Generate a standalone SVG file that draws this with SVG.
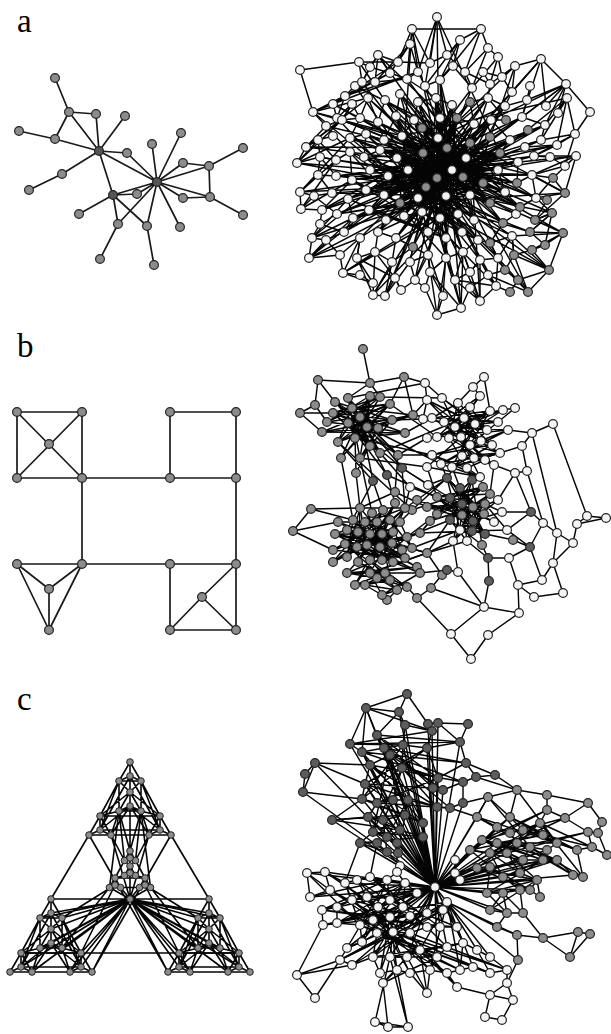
<svg xmlns="http://www.w3.org/2000/svg" width="611" height="1034" viewBox="0 0 611 1034">
<style>
.lab{font-family:"Liberation Serif","Times New Roman",serif;font-size:33px;fill:#000}
.e{fill:none;stroke:#050505;stroke-width:1.45;stroke-linejoin:round;stroke-linecap:round}
.e2{fill:none;stroke:#1a1a1a;stroke-width:1.7;stroke-linejoin:round}
.e3{fill:none;stroke:#050505;stroke-width:1.6;stroke-linejoin:round}
circle{r:4.4px;stroke:#222;stroke-width:1.2}
.s circle{r:3.3px;stroke-width:1}
.w circle{fill:#f4f4f4}
.g circle{fill:#8c8c8c}
.d circle{fill:#5c5c5c}
.h circle{fill:#555}
</style>
<rect width="611" height="1034" fill="#fff"/>
<text class="lab" x="17" y="31.5">a</text>
<text class="lab" x="17" y="356.5">b</text>
<text class="lab" x="17" y="709.5">c</text>

<!-- ===== a left ===== -->
<g id="graph-a-left">
<g id="a-left-connectors">
<path class="e2" d="M55 78L69 112M69 112L96 114M69 112L55 139M69 112L99 151M96 114L99 151M125 116L99 151M19 131L55 139M55 139L99 151M99 151L127 153M99 151L157 182M99 151L113 195M99 151L62 174M62 174L29 190M127 153L157 182M152 144L157 182M181 133L157 182M243 148L209 166M183 163L209 166M183 163L157 182M209 166L157 182M209 166L210 197M157 182L210 197M157 182L183 198M183 198L210 197M210 197L243 215M157 182L180 227M157 182L147 226M157 182L137 194M157 182L113 195M157 182L118 224M113 195L137 194M113 195L79 214M113 195L118 224M113 195L147 226M118 224L100 259M147 226L154 265"/>
</g>
<g class="g">
<circle id="a-n1" cx="55" cy="78"/><circle id="a-n2" cx="69" cy="112"/><circle id="a-n3" cx="96" cy="114"/><circle id="a-n4" cx="125" cy="116"/><circle id="a-n5" cx="19" cy="131"/><circle id="a-n6" cx="55" cy="139"/><circle id="a-n8" cx="127" cy="153"/><circle id="a-n9" cx="181" cy="133"/><circle id="a-n10" cx="152" cy="144"/><circle id="a-n11" cx="243" cy="148"/><circle id="a-n12" cx="183" cy="163"/><circle id="a-n13" cx="209" cy="166"/><circle id="a-n14" cx="62" cy="174"/><circle id="a-n16" cx="29" cy="190"/><circle id="a-n18" cx="137" cy="194"/><circle id="a-n19" cx="183" cy="198"/><circle id="a-n20" cx="210" cy="197"/><circle id="a-n21" cx="243" cy="215"/><circle id="a-n22" cx="79" cy="214"/><circle id="a-n23" cx="118" cy="224"/><circle id="a-n24" cx="147" cy="226"/><circle id="a-n25" cx="180" cy="227"/><circle id="a-n26" cx="100" cy="259"/><circle id="a-n27" cx="154" cy="265"/>
</g>
<g class="h">
<circle id="a-n7" cx="99" cy="151"/><circle id="a-n15" cx="157" cy="182"/><circle id="a-n17" cx="113" cy="195"/>
</g>
</g>

<!-- ===== b left ===== -->
<g id="graph-b-left">
<g id="b-left-connectors">
<path class="e2" d="M17 412L82 412L82 478L17 478ZM17 412L82 478M82 412L17 478M170 412L236 412L236 478L170 478ZM82 478L170 478M82 478L82 564M236 478L236 564M82 564L170 564M17 564L82 564M17 564L49 589M82 564L49 589M49 589L49 630M17 564L49 630M82 564L49 630M170 564L236 564L236 630L170 630ZM170 630L202 597M202 597L236 564M202 597L236 630"/>
</g>
<g class="g">
<circle id="b-n1" cx="17" cy="412"/><circle id="b-n2" cx="82" cy="412"/><circle id="b-n3" cx="49" cy="444"/><circle id="b-n4" cx="17" cy="478"/><circle id="b-n5" cx="82" cy="478"/><circle id="b-n6" cx="170" cy="412"/><circle id="b-n7" cx="236" cy="412"/><circle id="b-n8" cx="170" cy="478"/><circle id="b-n9" cx="236" cy="478"/><circle id="b-n10" cx="17" cy="564"/><circle id="b-n11" cx="82" cy="564"/><circle id="b-n12" cx="49" cy="589"/><circle id="b-n13" cx="49" cy="630"/><circle id="b-n14" cx="170" cy="564"/><circle id="b-n15" cx="236" cy="564"/><circle id="b-n16" cx="202" cy="597"/><circle id="b-n17" cx="170" cy="630"/><circle id="b-n18" cx="236" cy="630"/>
</g>
</g>

<!-- ===== c left ===== -->
<g id="graph-c-left">
<g id="c-left-connectors">
<path class="e3" d="M130 762L119 781L141 781ZM119 781L130 776L141 781M130 776L130 762M130 792L119 811L141 811ZM119 811L130 806L141 811M130 806L130 792M100 816L89 835L111 835ZM89 835L100 830L111 835M100 830L100 816M160 816L149 835L171 835ZM149 835L160 830L171 835M160 830L160 816M119 781L100 816M141 781L160 816M100 816L160 816M89 835L171 835M130 792L119 781M130 792L141 781M119 811L100 816M141 811L160 816M119 811L111 835M141 811L149 835M130 776L130 792M119 781L119 811M141 781L141 811M130 806L100 830M130 806L160 830M130 776L100 830M130 776L160 830M100 830L160 830M130 792L100 816M130 792L160 816M119 781L100 830M141 781L160 830M130 806L111 835M130 806L149 835"/>
<path class="e3" d="M51 899L40 918L62 918ZM40 918L51 913L62 918M51 913L51 899M51 929L40 948L62 948ZM40 948L51 943L62 948M51 943L51 929M21 953L10 972L32 972ZM10 972L21 967L32 972M21 967L21 953M81 953L70 972L92 972ZM70 972L81 967L92 972M81 967L81 953M40 918L21 953M62 918L81 953M21 953L81 953M10 972L92 972M51 929L40 918M51 929L62 918M40 948L21 953M62 948L81 953M40 948L32 972M62 948L70 972M51 913L51 929M40 918L40 948M62 918L62 948M51 943L21 967M51 943L81 967M51 913L21 967M51 913L81 967M21 967L81 967M51 929L21 953M51 929L81 953M40 918L21 967M62 918L81 967M51 943L32 972M51 943L70 972"/>
<path class="e3" d="M209 899L198 918L220 918ZM198 918L209 913L220 918M209 913L209 899M209 929L198 948L220 948ZM198 948L209 943L220 948M209 943L209 929M179 953L168 972L190 972ZM168 972L179 967L190 972M179 967L179 953M239 953L228 972L250 972ZM228 972L239 967L250 972M239 967L239 953M198 918L179 953M220 918L239 953M179 953L239 953M168 972L250 972M209 929L198 918M209 929L220 918M198 948L179 953M220 948L239 953M198 948L190 972M220 948L228 972M209 913L209 929M198 918L198 948M220 918L220 948M209 943L179 967M209 943L239 967M209 913L179 967M209 913L239 967M179 967L239 967M209 929L179 953M209 929L239 953M198 918L179 967M220 918L239 967M209 943L190 972M209 943L228 972"/>
<path class="e3" d="M130 851L124.5 860.5L135.5 860.5ZM124.5 860.5L130 858L135.5 860.5M130 858L130 851M130 866L124.5 875.5L135.5 875.5ZM124.5 875.5L130 873L135.5 875.5M130 873L130 866M115 878L109.5 887.5L120.5 887.5ZM109.5 887.5L115 885L120.5 887.5M115 885L115 878M145 878L139.5 887.5L150.5 887.5ZM139.5 887.5L145 885L150.5 887.5M145 885L145 878M124.5 860.5L115 878M135.5 860.5L145 878M115 878L145 878M109.5 887.5L150.5 887.5M130 866L124.5 860.5M130 866L135.5 860.5M124.5 875.5L115 878M135.5 875.5L145 878M130 858L130 866"/>
<path class="e3" d="M89 835L51 899M171 835L209 899M51 899L209 899M89 835L168 972M171 835L92 972M21 953L239 953M130 851L119 811M130 851L141 811M130 851L130 806M124.5 860.5L111 835M135.5 860.5L149 835M119 811L109.5 887.5M141 811L150.5 887.5M124.5 860.5L119 811M135.5 860.5L141 811M130 899L109.5 887.5M130 899L120.5 887.5M130 899L139.5 887.5M130 899L150.5 887.5M130 899L130 873M130 899L62 918M130 899L51 913M130 899L51 929M130 899L62 948M130 899L51 943M130 899L81 953M130 899L81 967M130 899L70 972M130 899L40 948M130 899L40 918M130 899L21 967M130 899L198 918M130 899L209 913M130 899L209 929M130 899L198 948M130 899L209 943M130 899L179 953M130 899L179 967M130 899L190 972M130 899L220 948M130 899L220 918M130 899L239 967M130 899L111 835M130 899L149 835M62 918L115 885M198 918L145 885M92 972L130 899L168 972M62 948L109.5 887.5M198 948L150.5 887.5M81 953L115 885M179 953L145 885M32 972L130 899L228 972"/>
</g>
<g class="g s">
<circle cx="130" cy="762"/><circle cx="119" cy="781"/><circle cx="141" cy="781"/><circle cx="130" cy="776"/><circle cx="130" cy="792"/><circle cx="119" cy="811"/><circle cx="141" cy="811"/><circle cx="130" cy="806"/><circle cx="100" cy="816"/><circle cx="89" cy="835"/><circle cx="111" cy="835"/><circle cx="100" cy="830"/><circle cx="160" cy="816"/><circle cx="149" cy="835"/><circle cx="171" cy="835"/><circle cx="160" cy="830"/>
<circle cx="51" cy="899"/><circle cx="40" cy="918"/><circle cx="62" cy="918"/><circle cx="51" cy="913"/><circle cx="51" cy="929"/><circle cx="40" cy="948"/><circle cx="62" cy="948"/><circle cx="51" cy="943"/><circle cx="21" cy="953"/><circle cx="10" cy="972"/><circle cx="32" cy="972"/><circle cx="21" cy="967"/><circle cx="81" cy="953"/><circle cx="70" cy="972"/><circle cx="92" cy="972"/><circle cx="81" cy="967"/>
<circle cx="209" cy="899"/><circle cx="198" cy="918"/><circle cx="220" cy="918"/><circle cx="209" cy="913"/><circle cx="209" cy="929"/><circle cx="198" cy="948"/><circle cx="220" cy="948"/><circle cx="209" cy="943"/><circle cx="179" cy="953"/><circle cx="168" cy="972"/><circle cx="190" cy="972"/><circle cx="179" cy="967"/><circle cx="239" cy="953"/><circle cx="228" cy="972"/><circle cx="250" cy="972"/><circle cx="239" cy="967"/>
<circle cx="130" cy="851"/><circle cx="124.5" cy="860.5"/><circle cx="135.5" cy="860.5"/><circle cx="130" cy="858"/><circle cx="130" cy="866"/><circle cx="124.5" cy="875.5"/><circle cx="135.5" cy="875.5"/><circle cx="130" cy="873"/><circle cx="115" cy="878"/><circle cx="109.5" cy="887.5"/><circle cx="120.5" cy="887.5"/><circle cx="115" cy="885"/><circle cx="145" cy="878"/><circle cx="139.5" cy="887.5"/><circle cx="150.5" cy="887.5"/><circle cx="145" cy="885"/>
<circle id="c-hub" cx="130" cy="899"/>
</g>
</g>

<!-- ===== a right ===== -->
<g id="graph-a-right">
<g id="a-right-connectors">
<path class="e" d="M437 17L430 63L412 29L398 62L410 44L390 73L378 55L370 67L359 62L362 82L355 86L345 96L333 104L337 118L313 112L326 126L306 147L318 140L297 163L320 157L318 175L300 192L314 196L301 209L322 210L320 224L312 238L326 240L309 258L340 255L343 273L360 275L373 283L357 258L373 295L385 296L395 278L401 290L415 280L425 288L437 315L443 296L430 272L461 308L470 288L480 301L455 280L496 286L488 275L528 292L518 280L549 270L532 250L563 233L545 245L552 213L535 220L565 193L553 178L576 156L565 166L575 134L557 145L567 98L558 113L566 84L546 106L541 59L515 66L502 77L498 57L488 48L481 29L460 40L447 55L437 17"/>
<path class="e" d="M300 70L359 62M300 70L313 112M412 29L481 29M541 59L566 84M575 134L567 98M300 192L301 209M312 238L309 258M343 273L373 283M437 315L461 308M549 270L528 292M566 84L527 100M460 40L453 66M410 44L418 72M378 55L398 62M313 112L333 104M306 147L297 163M576 156L565 193M563 233L549 270M480 301L496 286M566 84L590 112L575 134"/>
<path class="e" d="M359 62L398 62L345 96L418 72L333 104L390 73L313 112L368 98L306 147L342 120L297 163L350 138L300 192L336 160L301 209L352 180L322 210L348 199L312 238L353 218L309 258L360 238L343 273L375 252L373 295L392 262L385 296L410 262L415 280L428 255L437 315L446 258L461 308L463 252L480 301L480 260L496 286L498 258L528 292L514 255L549 270L512 236L563 233L530 232L552 213L536 198L565 193L532 175L576 156L534 156L575 134L541 140L567 98L545 125L566 84L522 117L541 59L512 92L515 66L490 84L498 57L472 88L488 48L465 72L481 29L440 80L460 40L425 86L437 17L418 72L412 29L407 79L410 44L375 82L378 55L362 82"/>
<path class="e" d="M362 82L498 258L418 102L463 252L337 118L536 198L385 100L478 240L350 138L520 207L400 94L446 258L326 126L532 175L370 170L505 106L396 238L474 124L360 238L510 140L344 232L491 120L378 232L457 118L413 247L452 105L404 216L488 98L386 220L470 102L369 210L522 117L348 199L541 140L353 218L525 147L337 214L545 125L366 190L557 145L352 180L534 156L384 195L518 162L336 176L500 153L364 157L517 183L380 150L505 192L397 158L490 203L408 170L503 223L402 136L474 220L384 140L458 214L366 134L462 232L414 120L440 218L396 116L428 232L436 98L446 238L440 80L463 177"/>
<path class="e" d="M423 153L483 183L437 178L470 143L426 187L490 137L400 203L447 148L418 198L466 158L446 196L422 128L470 195L438 138L452 170L408 170L498 170L388 176L463 177L397 158L483 183L402 136L490 203L423 153L520 207L437 178L457 118L426 187L500 153L400 203L470 143L418 198L447 148L446 196L440 118L463 177L380 150L466 158L384 195L452 170L414 120L470 195L422 128L483 183L436 98L437 178L474 124L426 187L505 192L423 153L446 258L447 148L440 218L452 105L418 198L510 140L408 170"/>
<path class="e" d="M359 62L437 178L541 59L426 187L297 163L463 177L309 258L447 148L461 308L423 153L566 84L452 170L300 192L483 183L373 295L470 143L565 193L400 203L412 29L446 196L549 270L418 198L313 112L466 158L415 280L437 178L576 156L388 176L496 286L423 153L322 210L500 153L437 17L440 218L343 273L470 195L515 66L408 170L528 292L447 148L306 147L498 170L378 55L463 177L563 233L397 158L443 296L452 170L333 104L483 183L552 213L426 187L355 86L470 143L480 301L402 136L567 98L446 196L312 238L457 118L385 296L437 178"/>
<path class="e" d="M384 140L437 178L402 136L463 177L414 120L483 183L438 138L470 195L422 128L505 192L457 118L446 196L474 124L418 198L490 137L400 203L510 140L426 187L518 162L408 170L532 175L388 176L517 183L397 158L498 170L380 150L500 153L370 170L466 158L366 190L452 170L384 195L447 148L404 216L470 143L422 212L491 120L440 218L452 105L458 214L436 98L474 220L418 102L490 203L400 94L503 223L396 116L520 207L378 122L536 198L366 134L516 214L350 152L462 232L364 157L478 240L352 180L446 238L348 199L428 232L369 210L423 153"/>
<path class="e" d="M360 118L447 148L342 120L423 153L350 138L463 177L336 160L437 178L336 176L426 187L332 193L446 196L337 214L470 195L353 218L483 183L378 232L466 158L396 238L470 143L413 247L452 170L428 255L447 148L446 258L437 178L463 252L423 153L480 260L408 170L498 258L397 158L512 236L388 176L530 232L418 198L545 125L437 178L522 117L426 187L505 106L463 177L488 98L423 153L472 88L447 148L440 80L452 170L425 86L483 183L407 79L466 158L385 100L490 203L368 98L470 195"/>
<path class="e" d="M345 96L337 118L352 104L342 120L360 118L350 138L366 134L364 157L380 150L370 170L388 176L384 195L400 203L404 216L422 212L428 232L446 238L446 258L463 252L478 240L490 243L503 223L516 214L520 207L536 198L532 175L517 183L518 162L500 153L510 140L491 120L506 120L488 98L470 102L474 124L457 118L452 105L436 98L440 118L438 138L422 128L414 120L402 136L396 116L384 140L378 122L366 134M318 140L320 157L336 160L350 152L352 180L366 190L348 199L353 218L369 210L386 220L378 232L396 238L413 247L428 255L430 272L446 258L455 280L470 272L480 260L498 258L490 243L512 236L514 255L505 270L518 280L510 292L496 286L488 275M326 126L333 136M344 232L353 218M360 238L357 258L375 252L378 232M392 262L396 238M410 262L413 247M462 232L458 214L440 218L446 196M474 220L470 195L490 203L505 192L498 170L483 183L463 177L452 170L466 158L447 148L438 138M437 178L426 187L418 198L408 170L423 153L397 158"/>
<path class="e" d="M370 67L390 73L407 79L418 72L425 86L440 80L453 66L472 88L465 72L490 84L483 72L502 77L512 92L505 106L527 100L522 117L545 125L541 140L525 147L557 145L534 156L550 157L565 166L532 175L553 178L536 198L547 200L535 220L552 213L530 232L545 245L532 250L514 255L512 236L498 258L505 270L488 275L480 260L470 272L463 252L455 280L446 258L430 272L428 255L410 262L413 247L392 262L375 252L395 278L357 258L360 238L340 255L326 240L344 232L320 224L337 214L314 196L332 193L318 175L336 176L320 157L336 160L318 140L333 136L326 126L342 120L352 104L360 118L368 98L378 122L385 100L396 116L400 94L414 120L418 102L436 98L407 79L375 82L362 82L370 67M398 62L430 63L447 55L465 72M530 86L527 100M490 84L488 98L505 106M470 288L488 275M401 290L395 278M425 288L430 272"/>
</g>
<g class="w">
<circle cx="437" cy="17"/><circle cx="412" cy="29"/><circle cx="481" cy="29"/><circle cx="460" cy="40"/><circle cx="410" cy="44"/><circle cx="300" cy="70"/><circle cx="359" cy="62"/><circle cx="378" cy="55"/><circle cx="488" cy="48"/><circle cx="498" cy="57"/><circle cx="541" cy="59"/><circle cx="515" cy="66"/><circle cx="566" cy="84"/><circle cx="567" cy="98"/><circle cx="313" cy="112"/><circle cx="333" cy="104"/><circle cx="355" cy="86"/><circle cx="546" cy="106"/><circle cx="527" cy="100"/><circle cx="575" cy="134"/><circle cx="306" cy="147"/><circle cx="297" cy="163"/><circle cx="576" cy="156"/><circle cx="300" cy="192"/><circle cx="301" cy="209"/><circle cx="322" cy="210"/><circle cx="312" cy="238"/><circle cx="309" cy="258"/><circle cx="343" cy="273"/><circle cx="373" cy="283"/><circle cx="373" cy="295"/><circle cx="385" cy="296"/><circle cx="437" cy="315"/><circle cx="461" cy="308"/><circle cx="480" cy="301"/><circle cx="496" cy="286"/><circle cx="415" cy="280"/><circle cx="443" cy="296"/><circle cx="590" cy="112"/>
<circle cx="398" cy="62"/><circle cx="430" cy="63"/><circle cx="447" cy="55"/><circle cx="453" cy="66"/><circle cx="465" cy="72"/><circle cx="418" cy="72"/><circle cx="390" cy="73"/><circle cx="370" cy="67"/><circle cx="483" cy="72"/><circle cx="502" cy="77"/>
<circle cx="362" cy="82"/><circle cx="375" cy="82"/><circle cx="407" cy="79"/><circle cx="425" cy="86"/><circle cx="440" cy="80"/><circle cx="472" cy="88"/><circle cx="490" cy="84"/><circle cx="512" cy="92"/><circle cx="530" cy="86"/><circle cx="345" cy="96"/>
<circle cx="337" cy="118"/><circle cx="352" cy="104"/><circle cx="368" cy="98"/><circle cx="385" cy="100"/><circle cx="400" cy="94"/><circle cx="418" cy="102"/><circle cx="436" cy="98"/><circle cx="452" cy="105"/><circle cx="488" cy="98"/><circle cx="505" cy="106"/><circle cx="558" cy="113"/>
<circle cx="326" cy="126"/><circle cx="342" cy="120"/><circle cx="360" cy="118"/><circle cx="378" cy="122"/><circle cx="396" cy="116"/><circle cx="414" cy="120"/><circle cx="440" cy="118"/><circle cx="474" cy="124"/><circle cx="491" cy="120"/><circle cx="522" cy="117"/><circle cx="545" cy="125"/>
<circle cx="318" cy="140"/><circle cx="333" cy="136"/><circle cx="350" cy="138"/><circle cx="366" cy="134"/><circle cx="384" cy="140"/><circle cx="402" cy="136"/><circle cx="438" cy="138"/><circle cx="510" cy="140"/><circle cx="525" cy="147"/><circle cx="541" cy="140"/><circle cx="557" cy="145"/>
<circle cx="320" cy="157"/><circle cx="336" cy="160"/><circle cx="350" cy="152"/><circle cx="364" cy="157"/><circle cx="380" cy="150"/><circle cx="397" cy="158"/><circle cx="466" cy="158"/><circle cx="518" cy="162"/><circle cx="534" cy="156"/><circle cx="550" cy="157"/><circle cx="565" cy="166"/>
<circle cx="318" cy="175"/><circle cx="336" cy="176"/><circle cx="352" cy="180"/><circle cx="370" cy="170"/><circle cx="388" cy="176"/><circle cx="408" cy="170"/><circle cx="452" cy="170"/><circle cx="498" cy="170"/><circle cx="532" cy="175"/>
<circle cx="314" cy="196"/><circle cx="332" cy="193"/><circle cx="348" cy="199"/><circle cx="366" cy="190"/><circle cx="384" cy="195"/><circle cx="418" cy="198"/><circle cx="446" cy="196"/><circle cx="470" cy="195"/><circle cx="505" cy="192"/><circle cx="536" cy="198"/>
<circle cx="320" cy="224"/><circle cx="337" cy="214"/><circle cx="353" cy="218"/><circle cx="369" cy="210"/><circle cx="386" cy="220"/><circle cx="404" cy="216"/><circle cx="422" cy="212"/><circle cx="440" cy="218"/><circle cx="458" cy="214"/><circle cx="474" cy="220"/><circle cx="516" cy="214"/>
<circle cx="326" cy="240"/><circle cx="344" cy="232"/><circle cx="360" cy="238"/><circle cx="378" cy="232"/><circle cx="396" cy="238"/><circle cx="428" cy="232"/><circle cx="446" cy="238"/><circle cx="462" cy="232"/><circle cx="478" cy="240"/><circle cx="512" cy="236"/>
<circle cx="340" cy="255"/><circle cx="357" cy="258"/><circle cx="375" cy="252"/><circle cx="392" cy="262"/><circle cx="410" cy="262"/><circle cx="428" cy="255"/><circle cx="446" cy="258"/><circle cx="463" cy="252"/><circle cx="480" cy="260"/><circle cx="498" cy="258"/>
<circle cx="360" cy="275"/><circle cx="395" cy="278"/><circle cx="430" cy="272"/><circle cx="455" cy="280"/><circle cx="470" cy="272"/><circle cx="488" cy="275"/><circle cx="401" cy="290"/><circle cx="425" cy="288"/><circle cx="470" cy="288"/>
</g>
<g class="g">
<circle cx="565" cy="193"/><circle cx="552" cy="213"/><circle cx="563" cy="233"/><circle cx="549" cy="270"/><circle cx="528" cy="292"/><circle cx="470" cy="102"/><circle cx="457" cy="118"/><circle cx="506" cy="120"/><circle cx="528" cy="130"/><circle cx="422" cy="128"/><circle cx="470" cy="143"/><circle cx="490" cy="137"/><circle cx="423" cy="153"/><circle cx="447" cy="148"/><circle cx="500" cy="153"/><circle cx="426" cy="187"/><circle cx="437" cy="178"/><circle cx="463" cy="177"/><circle cx="483" cy="183"/><circle cx="517" cy="183"/><circle cx="553" cy="178"/><circle cx="400" cy="203"/><circle cx="490" cy="203"/><circle cx="520" cy="207"/><circle cx="547" cy="200"/><circle cx="503" cy="223"/><circle cx="535" cy="220"/><circle cx="413" cy="247"/><circle cx="490" cy="243"/><circle cx="530" cy="232"/><circle cx="545" cy="245"/><circle cx="514" cy="255"/><circle cx="532" cy="250"/><circle cx="505" cy="270"/><circle cx="518" cy="280"/><circle cx="510" cy="292"/>
</g>
</g>

<!-- ===== b right ===== -->
<g id="graph-b-right">
<g id="b-right-connectors">
<path class="e" d="M335 402L367 427L348 398L360 458L370 396L327 422L380 397L355 438L390 404L338 442L352 408L378 428L333 413L392 420L348 423L370 446L360 417L341 458L367 427L380 453L335 402L398 455L352 408L387 475L348 423L402 468L360 417L373 481L338 442L413 415L322 432L405 433L355 438L356 473L378 428L360 458L392 420L370 446L348 398L380 453L333 413L367 427L370 396L341 458L390 404L360 417"/>
<path class="e" d="M348 423L380 397L333 413L390 404L322 432L378 428L335 402L392 420L355 438L370 396L338 442L367 427L327 422L360 417L348 398L378 428L352 408L370 446L333 413L380 453L348 423L398 455L360 417L405 433L367 427L413 415L352 408L390 404L348 423"/>
<path class="e" d="M363 349L370 383L348 398M370 383L380 397M370 383L404 377L413 415M404 377L390 404M318 380L335 402M318 380L370 383M318 380L315 405L300 413L333 413M315 405L327 422M300 413L322 432M404 377L425 383M348 398L425 383M380 397L442 398M355 438L432 455M338 442L412 510M390 404L437 437M360 458L427 467M387 475L437 497M373 481L347 530M402 468L450 498M380 453L464 418M367 427L441 464M398 455L432 455M413 415L432 418"/>
<path class="e" d="M427 400L475 424L442 398L461 437L458 403L432 418L490 411L449 438L470 407L437 437L503 410L444 422L480 396L455 427L487 430L464 418L498 422L470 445L508 430L441 464L481 441L432 455L492 445L452 467L500 453L462 456L494 465L474 458L485 460L467 468L480 477L427 467L461 437L490 411L437 437L475 424L427 400L464 418L449 438L500 453L455 427L480 477"/>
<path class="e" d="M442 398L487 430L458 403L449 438L480 396L444 422L503 410L461 437L432 418L498 422L455 427L508 430L437 437L490 411L470 445L427 400L481 441L464 418L492 445L444 422L474 458L455 427L485 460L461 437L494 465L449 438L467 468L432 455L480 477L441 464L500 453L452 467L475 424L462 456L470 407L487 430"/>
<path class="e" d="M425 383L427 400M425 383L442 398M484 377L473 387L458 403M473 387L480 396M484 377L490 411M515 408L503 410M515 408L498 422M553 424L532 433L508 430M532 433L522 446L500 453M522 446L527 471L515 473L494 465M515 473L498 500"/>
<path class="e" d="M447 478L473 507L460 488L437 514L472 480L450 520L483 487L437 497L490 494L462 515L450 498L485 504L462 504L427 507L473 521L447 478L484 514L460 488L472 531L450 498L494 522L437 497L485 534L462 504L460 530L473 507L453 541L484 514L467 541L450 520L482 545L472 480L430 521L483 487L412 510L447 478L417 500L462 515L498 500L473 521L502 512L485 504L507 530L472 531L513 540L485 534"/>
<path class="e" d="M437 497L472 531L450 498L485 534L460 488L462 515L472 480L437 514L483 487L450 520L490 494L460 530L447 478L484 514L427 507L473 507L430 521L485 504L453 541L462 504L467 541L473 521L437 497M407 537L450 520M412 548L460 530M420 533L472 531M427 553L467 541"/>
<path class="e" d="M531 512L502 512M531 512L507 530L530 547L513 540M530 547L509 558L488 558L482 545M488 558L489 581M488 558L467 541M458 572L453 541M458 572L447 570"/>
<path class="e" d="M360 508L382 534L372 513L345 544L383 510L358 562L395 503L367 545L405 508L347 557L353 520L393 532L365 522L402 550L377 522L333 550L390 520L370 560L400 522L338 522L380 547L335 534L412 548L347 530L393 562L358 532L405 558L370 534L333 562L393 532L382 560L407 537L357 547L420 533L392 543L427 553L370 573L417 567L347 573L385 573L355 585L390 580L365 585L397 590L377 578L407 587L382 595L420 573L367 545L360 508L405 508L335 534L382 534L347 573L402 550L358 532"/>
<path class="e" d="M338 522L370 534L353 520L380 547L365 522L392 543L377 522L402 550L390 520L412 548L400 522L367 545L383 510L357 547L372 513L347 557L360 508L358 562L395 503L370 560L405 508L382 560L335 534L393 562L345 544L405 558L333 550L382 534L333 562L358 532L417 567L347 530L427 553L370 573L393 532L355 585L382 534L390 580L358 562L407 587L370 560L397 590L345 544L385 573L347 573L377 578L365 585L382 595L370 573L420 573L393 562"/>
<path class="e" d="M311 509L353 520M311 509L293 531L338 522M311 509L360 508M293 531L333 550M442 575L427 553M447 570L420 573M442 575L431 588L417 598L407 587M387 600L397 590M387 600L382 595"/>
<path class="e" d="M356 473L360 508M373 481L383 510M387 475L395 503M402 468L405 508M341 458L353 520M360 458L372 513M380 453L410 487L437 497M398 455L395 492L427 507M395 492L360 508M428 485L447 478M428 485L402 468M410 487L405 508M413 415L427 400M405 433L432 418M392 420L423 419L444 422M427 438L437 437M427 438L398 455M423 419L427 400M441 464L447 478M452 467L460 488M467 468L472 480M480 477L483 487M427 467L437 497M462 456L447 478M494 465L490 494M420 533L430 521M427 553L450 520M407 537L437 514M417 500L405 508M412 510L400 522M420 533L437 514M427 553L453 541"/>
<path class="e" d="M515 473L531 512M531 512L543 523L557 533L573 543L577 524L587 516L606 518M577 524L606 518M557 533L553 563L563 593L534 597L518 585L519 613L488 635L471 659L451 634L484 607L519 613M484 607L431 588M451 634L417 598M553 563L542 580L518 585M542 580L530 547M573 543L553 563M509 558L518 585M489 581L484 607M458 572L484 607M543 523L530 547M527 471L543 523M532 433L557 533M553 424L587 516"/>
</g>
<g class="g">
<circle cx="363" cy="349"/><circle cx="404" cy="377"/><circle cx="318" cy="380"/><circle cx="370" cy="383"/><circle cx="300" cy="413"/><circle cx="315" cy="405"/><circle cx="311" cy="509"/><circle cx="293" cy="531"/><circle cx="417" cy="598"/><circle cx="387" cy="600"/><circle cx="431" cy="588"/>
<circle cx="335" cy="402"/><circle cx="348" cy="398"/><circle cx="370" cy="396"/><circle cx="380" cy="397"/><circle cx="390" cy="404"/><circle cx="352" cy="408"/><circle cx="360" cy="417"/><circle cx="333" cy="413"/><circle cx="327" cy="422"/><circle cx="322" cy="432"/><circle cx="348" cy="423"/><circle cx="367" cy="427"/><circle cx="378" cy="428"/><circle cx="392" cy="420"/><circle cx="355" cy="438"/><circle cx="338" cy="442"/><circle cx="370" cy="446"/><circle cx="341" cy="458"/><circle cx="360" cy="458"/><circle cx="380" cy="453"/><circle cx="398" cy="455"/><circle cx="356" cy="473"/><circle cx="413" cy="415"/><circle cx="405" cy="433"/><circle cx="395" cy="492"/>
<circle cx="483" cy="487"/><circle cx="490" cy="494"/><circle cx="437" cy="497"/><circle cx="473" cy="507"/><circle cx="485" cy="504"/><circle cx="427" cy="507"/><circle cx="437" cy="514"/><circle cx="462" cy="515"/><circle cx="484" cy="514"/><circle cx="482" cy="545"/><circle cx="513" cy="540"/><circle cx="417" cy="500"/><circle cx="412" cy="510"/><circle cx="430" cy="521"/><circle cx="442" cy="575"/>
<circle cx="360" cy="508"/><circle cx="372" cy="513"/><circle cx="383" cy="510"/><circle cx="395" cy="503"/><circle cx="405" cy="508"/><circle cx="353" cy="520"/><circle cx="365" cy="522"/><circle cx="377" cy="522"/><circle cx="390" cy="520"/><circle cx="400" cy="522"/><circle cx="338" cy="522"/><circle cx="335" cy="534"/><circle cx="347" cy="530"/><circle cx="358" cy="532"/><circle cx="370" cy="534"/><circle cx="382" cy="534"/><circle cx="393" cy="532"/><circle cx="407" cy="537"/><circle cx="420" cy="533"/><circle cx="333" cy="550"/><circle cx="345" cy="544"/><circle cx="357" cy="547"/><circle cx="367" cy="545"/><circle cx="380" cy="547"/><circle cx="392" cy="543"/><circle cx="402" cy="550"/><circle cx="412" cy="548"/><circle cx="333" cy="562"/><circle cx="347" cy="557"/><circle cx="358" cy="562"/><circle cx="370" cy="560"/><circle cx="382" cy="560"/><circle cx="393" cy="562"/><circle cx="405" cy="558"/><circle cx="417" cy="567"/><circle cx="427" cy="553"/><circle cx="355" cy="585"/><circle cx="365" cy="585"/><circle cx="377" cy="578"/><circle cx="390" cy="580"/><circle cx="382" cy="595"/><circle cx="397" cy="590"/><circle cx="407" cy="587"/><circle cx="370" cy="573"/><circle cx="385" cy="573"/><circle cx="420" cy="573"/><circle cx="347" cy="573"/>
</g>
<g class="d">
<circle cx="402" cy="468"/><circle cx="387" cy="475"/><circle cx="373" cy="481"/><circle cx="531" cy="512"/><circle cx="530" cy="547"/><circle cx="488" cy="558"/><circle cx="489" cy="581"/><circle cx="447" cy="478"/><circle cx="460" cy="488"/><circle cx="472" cy="480"/><circle cx="450" cy="498"/><circle cx="462" cy="504"/><circle cx="450" cy="520"/><circle cx="473" cy="521"/><circle cx="472" cy="531"/><circle cx="485" cy="534"/><circle cx="447" cy="570"/>
</g>
<g class="w">
<circle cx="425" cy="383"/><circle cx="484" cy="377"/><circle cx="473" cy="387"/><circle cx="515" cy="408"/><circle cx="553" cy="424"/><circle cx="532" cy="433"/><circle cx="522" cy="446"/><circle cx="527" cy="471"/><circle cx="515" cy="473"/><circle cx="606" cy="518"/><circle cx="587" cy="516"/><circle cx="577" cy="524"/><circle cx="557" cy="533"/><circle cx="573" cy="543"/><circle cx="543" cy="523"/><circle cx="553" cy="563"/><circle cx="542" cy="580"/><circle cx="563" cy="593"/><circle cx="534" cy="597"/><circle cx="518" cy="585"/><circle cx="519" cy="613"/><circle cx="484" cy="607"/><circle cx="451" cy="634"/><circle cx="488" cy="635"/><circle cx="471" cy="659"/><circle cx="458" cy="572"/><circle cx="509" cy="558"/>
<circle cx="423" cy="419"/><circle cx="427" cy="438"/><circle cx="410" cy="487"/><circle cx="428" cy="485"/>
<circle cx="427" cy="400"/><circle cx="442" cy="398"/><circle cx="458" cy="403"/><circle cx="470" cy="407"/><circle cx="480" cy="396"/><circle cx="490" cy="411"/><circle cx="503" cy="410"/><circle cx="432" cy="418"/><circle cx="444" cy="422"/><circle cx="455" cy="427"/><circle cx="464" cy="418"/><circle cx="475" cy="424"/><circle cx="487" cy="430"/><circle cx="498" cy="422"/><circle cx="508" cy="430"/><circle cx="437" cy="437"/><circle cx="449" cy="438"/><circle cx="461" cy="437"/><circle cx="470" cy="445"/><circle cx="481" cy="441"/><circle cx="492" cy="445"/><circle cx="500" cy="453"/><circle cx="432" cy="455"/><circle cx="441" cy="464"/><circle cx="452" cy="467"/><circle cx="462" cy="456"/><circle cx="474" cy="458"/><circle cx="485" cy="460"/><circle cx="494" cy="465"/><circle cx="467" cy="468"/><circle cx="480" cy="477"/><circle cx="427" cy="467"/>
<circle cx="498" cy="500"/><circle cx="502" cy="512"/><circle cx="494" cy="522"/><circle cx="460" cy="530"/><circle cx="453" cy="541"/><circle cx="467" cy="541"/><circle cx="507" cy="530"/>
</g>
</g>

<!-- ===== c right ===== -->
<g id="graph-c-right">
<g id="c-right-connectors">
<path class="e" d="M435 887L366 708M435 887L399 712M435 887L428 724M435 887L438 723M435 887L405 725M435 887L432 731M435 887L350 744M435 887L377 735M435 887L403 745M435 887L427 748M435 887L362 752M435 887L390 755M435 887L402 768M435 887L365 784M435 887L438 778M435 887L433 788M435 887L362 799M435 887L377 803M435 887L393 800M435 887L408 800M435 887L437 807M435 887L368 817M435 887L383 820M435 887L405 815M435 887L423 823M435 887L373 832M435 887L400 830M435 887L360 843M435 887L397 843M435 887L423 837M435 887L315 763M435 887L303 792M435 887L332 820M435 887L384 748M435 887L370 765M435 887L460 742M435 887L443 790"/>
<path class="e" d="M435 887L488 797M435 887L510 817M435 887L477 817M435 887L497 827M435 887L482 840M435 887L497 843M435 887L517 843M435 887L470 850M435 887L490 853M435 887L507 853M435 887L523 860M435 887L543 860M435 887L477 868M435 887L490 867M435 887L503 877M435 887L520 873M435 887L537 880M435 887L487 893M435 887L503 893M435 887L530 890M435 887L490 910M435 887L507 913M435 887L547 850M435 887L557 860M435 887L573 875M435 887L540 823M435 887L463 803"/>
<path class="e" d="M435 887L307 873M435 887L325 872M435 887L345 883M435 887L370 877M435 887L387 880M435 887L405 883M435 887L417 893M435 887L337 907M435 887L352 900M435 887L378 907M435 887L390 900M435 887L403 907M435 887L360 925M435 887L390 917M435 887L410 916M435 887L427 913M435 887L377 933M435 887L410 933M435 887L440 927M435 887L457 927M435 887L407 957M435 887L437 957M435 887L447 947M435 887L463 943M435 887L390 957M435 887L322 910M435 887L310 897M447 902L420 950M447 902L430 970M447 902L460 970M447 902L473 967M447 902L477 950M447 902L490 957M447 902L517 935M447 902L497 927M447 902L373 957M447 902L340 960M447 902L323 925M447 902L518 960M447 902L435 887"/>
<path class="e" d="M407 694L366 708L399 712L407 694L428 724L438 723L468 724L460 742L438 723M366 708L350 744L362 752L366 708M366 708L377 735L399 712L405 725L432 731L428 724M377 735L384 748L403 745L405 725M403 745L427 748L432 731M427 748L460 742M384 748L362 752L370 765L390 755L384 748M390 755L402 768L403 745M370 765L365 784M315 763L305 774L303 792L315 763L365 784L362 799M315 763L370 765M303 792L362 799M466 763L476 777L495 775L466 763L438 778L433 788L443 790L463 782L476 777M438 778L427 748M466 763L460 742M402 768L438 778M362 799L377 803L393 800L408 800L437 807L450 808L463 803L463 782M332 820L368 817L383 820L405 815L423 823M332 820L362 799M368 817L373 832L387 837L400 830L383 820M373 832L360 843L377 843L387 852L398 853L397 843L387 837M400 830L423 837L423 823L405 815L408 800M377 803L368 817M393 800L383 820M365 784L377 803M402 768L393 800"/>
<path class="e" d="M350 744L403 745L362 799L427 748L365 784L433 788L377 735L408 800L370 765L437 807L384 748L423 823L362 752L400 830L390 755L373 832L402 768L450 808L377 803L438 778M488 797L463 803M477 817L450 808M476 777L517 790M495 775L517 790M360 843L345 883M377 843L370 877M397 843L397 872M400 866L397 872M400 866L387 852M460 880L455 873L455 860M455 873L477 868M455 860L435 887M460 880L435 887"/>
<path class="e" d="M366 708L432 731L350 744L460 742L377 735L438 778L362 752L466 763L384 748L443 790L390 755L463 782L370 765L437 807L365 784L423 823L362 799L405 815L332 820L400 830L368 817L397 843L373 832L423 837L360 843L387 852L383 820L398 853L408 800L387 837"/>
<path class="e" d="M517 790L488 797L510 817L517 790L547 795L547 810L565 818L588 803L602 822L598 833L588 832L565 818M547 795L588 803M547 810L540 823L523 830L510 817L497 827L477 817L488 797M540 823L543 835L557 843L577 850L592 847L607 855L598 833M588 832L592 847M557 843L547 850L530 847L517 843L497 843L482 840L470 850L490 853L507 853L523 860L543 860L557 860L573 875L583 877L577 850M543 835L523 830L510 833L497 827M510 833L517 843M530 847L523 860M547 850L543 860M477 868L490 867L503 877L520 873L537 880L530 890L540 897L537 880M490 867L487 893L503 893L520 890L530 890M503 893L490 910L507 913L523 913L520 890M497 927L517 935L543 938L523 913M578 932L590 934L570 957L578 932L543 938M518 960L517 935M570 957L543 938"/>
<path class="e" d="M488 797L530 847L477 817L557 843L497 843L543 835L470 850L547 810L482 840L565 818L490 853L588 832L507 853L540 823L477 868L557 860L503 877L543 860L487 893L537 880L490 910"/>
<path class="e" d="M517 790L557 843L510 817L577 850L523 830L592 847L540 823L583 877L530 847L573 875L517 843L557 860L497 843L543 860L482 840L523 860L470 850L503 877L490 853L520 873L507 853L537 880L477 868L530 890L490 867L520 890L487 893L507 913L503 893L523 913"/>
<path class="e" d="M307 873L325 872L330 890L310 897L307 873L330 890M325 872L345 883L357 880L370 877L387 880L397 872L405 883L417 893L403 907L390 900L378 907L367 897L352 900L337 907L322 910L323 925L337 923L360 925L373 920L390 917L410 916L427 913L443 910M345 883L352 900M357 880L367 897M387 880L390 900M405 883L403 907M337 907L337 923M378 907L373 920M390 917L403 907M360 925L362 942L347 948L340 960L352 965L373 957L390 957L407 957L420 950L437 957L447 947L463 943L477 950L490 957M362 942L377 933L393 932L410 933L427 927L440 927L457 927L463 943M377 933L373 957M393 932L390 957M410 933L420 950M427 927L447 947M380 973L397 970L410 973L430 970L447 973L460 970L473 967L490 973L507 970L507 983L513 1000L490 995L507 983M490 995L485 1017L502 1020L513 1000M457 987L447 973M457 987L490 995M427 993L430 970M427 993L410 973M383 983L380 973L373 957M383 983L397 970M375 1022L388 1027L408 1027L375 1022M375 1022L390 957M388 1027L383 983M408 1027L397 970M408 1027L390 957M297 975L315 998L340 960L297 975L352 965M297 975L323 925"/>
<path class="e" d="M307 873L360 925L345 883L393 932L330 890L410 933L357 880L427 927L370 877L440 927L322 910L390 917L325 872L378 907L337 923L417 893L352 900L410 916L323 925L403 907L347 948L387 880L362 942L405 883L360 925L443 910L373 920L457 927L390 900M490 973L477 950M460 970L463 943M430 970L437 957M507 970L490 957M507 913L497 927M518 960L507 983"/>
<path class="e" d="M310 897L387 880L322 910L405 883L337 923L417 893L347 948L427 913L340 960L443 910L352 965L410 916L373 957L403 907L380 973L390 917L397 970L378 907L410 973L367 897L430 970L352 900L447 973L337 907L460 970L360 925L473 967L377 933L490 973L393 932L507 970L410 933L457 987L420 950L427 993L407 957L383 983L437 957L390 957L463 943L373 957"/>
</g>
<g class="d">
<circle cx="407" cy="694"/><circle cx="366" cy="708"/><circle cx="399" cy="712"/><circle cx="438" cy="723"/><circle cx="428" cy="724"/><circle cx="468" cy="724"/><circle cx="405" cy="725"/><circle cx="432" cy="731"/><circle cx="350" cy="744"/><circle cx="377" cy="735"/><circle cx="384" cy="748"/><circle cx="403" cy="745"/><circle cx="427" cy="748"/><circle cx="460" cy="742"/><circle cx="362" cy="752"/><circle cx="370" cy="765"/><circle cx="390" cy="755"/><circle cx="402" cy="768"/><circle cx="315" cy="763"/><circle cx="305" cy="774"/><circle cx="303" cy="792"/><circle cx="365" cy="784"/><circle cx="466" cy="763"/><circle cx="476" cy="777"/><circle cx="495" cy="775"/><circle cx="438" cy="778"/><circle cx="433" cy="788"/><circle cx="443" cy="790"/><circle cx="463" cy="782"/><circle cx="362" cy="799"/><circle cx="377" cy="803"/><circle cx="393" cy="800"/><circle cx="408" cy="800"/><circle cx="437" cy="807"/><circle cx="450" cy="808"/><circle cx="463" cy="803"/><circle cx="332" cy="820"/><circle cx="368" cy="817"/><circle cx="383" cy="820"/><circle cx="405" cy="815"/><circle cx="423" cy="823"/><circle cx="373" cy="832"/><circle cx="387" cy="837"/><circle cx="400" cy="830"/><circle cx="360" cy="843"/><circle cx="377" cy="843"/><circle cx="397" cy="843"/><circle cx="387" cy="852"/><circle cx="398" cy="853"/><circle cx="423" cy="837"/>
</g>
<g class="g">
<circle cx="517" cy="790"/><circle cx="488" cy="797"/><circle cx="547" cy="795"/><circle cx="588" cy="803"/><circle cx="547" cy="810"/><circle cx="565" cy="818"/><circle cx="602" cy="822"/><circle cx="510" cy="817"/><circle cx="540" cy="823"/><circle cx="477" cy="817"/><circle cx="588" cy="832"/><circle cx="598" cy="833"/><circle cx="497" cy="827"/><circle cx="510" cy="833"/><circle cx="523" cy="830"/><circle cx="543" cy="835"/><circle cx="557" cy="843"/><circle cx="577" cy="850"/><circle cx="607" cy="855"/><circle cx="592" cy="847"/><circle cx="482" cy="840"/><circle cx="497" cy="843"/><circle cx="517" cy="843"/><circle cx="530" cy="847"/><circle cx="547" cy="850"/><circle cx="470" cy="850"/><circle cx="490" cy="853"/><circle cx="507" cy="853"/><circle cx="523" cy="860"/><circle cx="543" cy="860"/><circle cx="557" cy="860"/><circle cx="573" cy="875"/><circle cx="583" cy="877"/><circle cx="477" cy="868"/><circle cx="490" cy="867"/><circle cx="503" cy="877"/><circle cx="520" cy="873"/><circle cx="537" cy="880"/><circle cx="530" cy="890"/><circle cx="540" cy="897"/><circle cx="487" cy="893"/><circle cx="503" cy="893"/><circle cx="520" cy="890"/><circle cx="490" cy="910"/><circle cx="507" cy="913"/><circle cx="523" cy="913"/><circle cx="497" cy="927"/><circle cx="517" cy="935"/><circle cx="543" cy="938"/><circle cx="578" cy="932"/><circle cx="590" cy="934"/><circle cx="570" cy="957"/><circle cx="518" cy="960"/>
</g>
<g class="w">
<circle id="c-right-hub" cx="435" cy="887"/><circle cx="447" cy="902"/><circle cx="400" cy="866"/><circle cx="455" cy="873"/><circle cx="460" cy="880"/><circle cx="455" cy="860"/>
<circle cx="307" cy="873"/><circle cx="325" cy="872"/><circle cx="310" cy="897"/><circle cx="330" cy="890"/><circle cx="345" cy="883"/><circle cx="357" cy="880"/><circle cx="370" cy="877"/><circle cx="387" cy="880"/><circle cx="397" cy="872"/><circle cx="405" cy="883"/><circle cx="417" cy="893"/><circle cx="322" cy="910"/><circle cx="337" cy="907"/><circle cx="352" cy="900"/><circle cx="367" cy="897"/><circle cx="378" cy="907"/><circle cx="390" cy="900"/><circle cx="403" cy="907"/><circle cx="323" cy="925"/><circle cx="337" cy="923"/><circle cx="360" cy="925"/><circle cx="373" cy="920"/><circle cx="390" cy="917"/><circle cx="410" cy="916"/><circle cx="427" cy="913"/><circle cx="443" cy="910"/><circle cx="347" cy="948"/><circle cx="362" cy="942"/><circle cx="377" cy="933"/><circle cx="393" cy="932"/><circle cx="410" cy="933"/><circle cx="427" cy="927"/><circle cx="440" cy="927"/><circle cx="457" cy="927"/><circle cx="463" cy="943"/><circle cx="340" cy="960"/><circle cx="352" cy="965"/><circle cx="373" cy="957"/><circle cx="390" cy="957"/><circle cx="407" cy="957"/><circle cx="420" cy="950"/><circle cx="437" cy="957"/><circle cx="447" cy="947"/><circle cx="477" cy="950"/><circle cx="490" cy="957"/><circle cx="380" cy="973"/><circle cx="397" cy="970"/><circle cx="410" cy="973"/><circle cx="430" cy="970"/><circle cx="447" cy="973"/><circle cx="460" cy="970"/><circle cx="473" cy="967"/><circle cx="490" cy="973"/><circle cx="507" cy="970"/><circle cx="297" cy="975"/><circle cx="315" cy="998"/><circle cx="383" cy="983"/><circle cx="427" cy="993"/><circle cx="457" cy="987"/><circle cx="490" cy="995"/><circle cx="507" cy="983"/><circle cx="513" cy="1000"/><circle cx="485" cy="1017"/><circle cx="502" cy="1020"/><circle cx="375" cy="1022"/><circle cx="388" cy="1027"/><circle cx="408" cy="1027"/>
</g>
</g>
</svg>
